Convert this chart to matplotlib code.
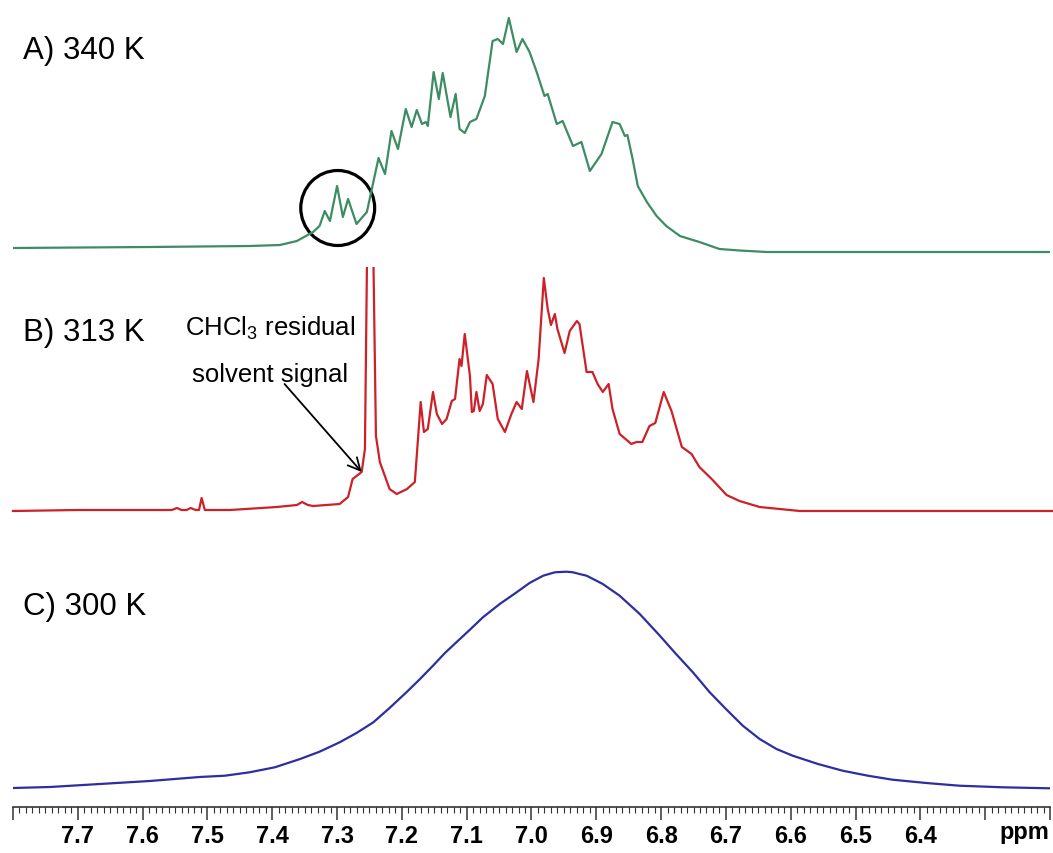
#!/usr/bin/env python3
# stacked 1H NMR spectra at three temperatures (aromatic region)

import matplotlib
matplotlib.use("Agg")
import matplotlib.pyplot as plt
from matplotlib.ticker import MultipleLocator, FuncFormatter
from matplotlib.patches import Rectangle, Ellipse

plt.rcParams['font.family'] = ['Liberation Sans', 'DejaVu Sans']
plt.rcParams['mathtext.fontset'] = 'custom'
plt.rcParams['mathtext.rm'] = 'Liberation Sans'
plt.rcParams['mathtext.it'] = 'Liberation Sans'

# A) 340 K
ppm_340 = [7.800, 7.589, 7.435, 7.388, 7.362, 7.337, 7.327, 7.319, 7.311, 7.300,
           7.291, 7.283, 7.270, 7.254, 7.236, 7.226, 7.216, 7.206, 7.194, 7.185,
           7.177, 7.169, 7.163, 7.160, 7.151, 7.143, 7.137, 7.125, 7.117, 7.111,
           7.103, 7.095, 7.085, 7.072, 7.060, 7.052, 7.044, 7.035, 7.023, 7.014,
           7.003, 6.992, 6.980, 6.975, 6.961, 6.952, 6.936, 6.923, 6.910, 6.892,
           6.875, 6.864, 6.856, 6.852, 6.844, 6.836, 6.822, 6.807, 6.792, 6.771,
           6.741, 6.710, 6.679, 6.637, 6.196]
int_340 = [4, 5, 6, 7, 11, 20, 26, 41, 31, 66,
           35, 53, 28, 40, 94, 78, 121, 103, 143, 125,
           142, 128, 130, 126, 180, 153, 179, 135, 158, 123,
           119, 130, 133, 156, 211, 213, 208, 234, 200, 213,
           200, 180, 156, 158, 128, 131, 106, 110, 81, 98,
           130, 128, 116, 117, 93, 66, 50, 36, 26, 16,
           10, 3, 1.5, 0, 0]

# B) 313 K
ppm_313 = [7.800, 7.700, 7.600, 7.555, 7.547, 7.540, 7.532, 7.526, 7.518, 7.513,
           7.509, 7.504, 7.465, 7.393, 7.362, 7.354, 7.345, 7.337, 7.296, 7.283,
           7.276, 7.270, 7.262, 7.257, 7.253, 7.249, 7.245, 7.240, 7.234, 7.219,
           7.208, 7.192, 7.180, 7.171, 7.166, 7.160, 7.152, 7.146, 7.138, 7.131,
           7.123, 7.118, 7.111, 7.108, 7.103, 7.095, 7.092, 7.089, 7.085, 7.080,
           7.075, 7.069, 7.060, 7.052, 7.041, 7.031, 7.023, 7.015, 7.007, 6.997,
           6.989, 6.981, 6.975, 6.970, 6.964, 6.960, 6.949, 6.941, 6.930, 6.926,
           6.915, 6.906, 6.898, 6.890, 6.881, 6.875, 6.864, 6.846, 6.838, 6.829,
           6.818, 6.809, 6.796, 6.784, 6.768, 6.753, 6.741, 6.722, 6.699, 6.679,
           6.648, 6.586, 6.196]
int_313 = [0, 1, 1, 1, 3, 1, 1, 3, 1, 1,
           13, 1, 1, 4, 6, 9, 6, 5, 7, 14,
           32, 35, 39, 62, 300, 400, 300, 75, 49, 22,
           17, 22, 29, 109, 79, 82, 119, 97, 87, 92,
           110, 112, 152, 145, 177, 135, 99, 100, 119, 100,
           107, 136, 127, 92, 79, 97, 109, 102, 140, 109,
           152, 233, 202, 186, 197, 182, 158, 180, 190, 187,
           139, 139, 127, 119, 127, 102, 77, 67, 69, 69,
           85, 88, 119, 100, 64, 57, 44, 32, 16, 10,
           4, 0, 0]

# C) 300 K
ppm_300 = [7.800, 7.743, 7.666, 7.589, 7.512, 7.473, 7.435, 7.396, 7.357, 7.327,
           7.296, 7.270, 7.244, 7.219, 7.193, 7.172, 7.152, 7.134, 7.116, 7.095,
           7.075, 7.049, 7.023, 7.003, 6.982, 6.964, 6.946, 6.936, 6.926, 6.915,
           6.905, 6.890, 6.864, 6.833, 6.802, 6.777, 6.751, 6.725, 6.700, 6.674,
           6.648, 6.622, 6.597, 6.558, 6.520, 6.481, 6.443, 6.391, 6.340, 6.273,
           6.201]
int_300 = [1, 2, 5, 8, 12, 13.3, 16.7, 21.7, 30, 37.3,
           46.7, 56, 66.7, 81, 96.7, 110, 123.3, 135.7, 146.7, 159.3,
           171.7, 185, 196.7, 206, 213.3, 216.7, 217.3, 216.7, 215, 213.3,
           210, 205, 193.3, 175, 153.3, 135, 116.7, 96.7, 80, 63.3,
           50, 40, 33.3, 25, 18.3, 13.3, 9.3, 6, 3.3, 1.7,
           0.7]

labels = ["A) 340 K", "B) 313 K", "C) 300 K"]
colors = ["#3d8c63", "#cc2128", "#2e2ea0"]
offsets = [555, 296, 18]
label_y = [749, 467, 193]

fig = plt.figure(figsize=(10.53, 8.54), dpi=100)
ax = fig.add_axes([13 / 1053, 46 / 854, 1037 / 1053, 808 / 854])
ax.set_xlim(7.80, 6.20)
ax.set_ylim(0, 808)

series = [(ppm_340, int_340), (ppm_313, int_313), (ppm_300, int_300)]
for (x, y), c, off, lab, ly in zip(series, colors, offsets, labels, label_y):
    line, = ax.plot(x, [v + off for v in y], color=c, lw=1.6,
                    solid_joinstyle='round')
    if c == colors[1]:
        # solvent peak runs off the top of its panel
        clip = Rectangle((6.0, -100), 2.0, 640, transform=ax.transData)
        line.set_clip_path(clip)
    ax.text(7.785, ly, lab, fontsize=22.5, ha='left', va='baseline')

# circled multiplet
ax.add_patch(Ellipse((7.299, 599), 0.114, 75, fill=False, ec='black', lw=2.3))

# solvent annotation
ax.text(7.403, 472, r"CHCl$_3$ residual", fontsize=18.5, ha='center', va='baseline')
ax.text(7.403, 426, "solvent signal", fontsize=18.5, ha='center', va='baseline')
ax.annotate("", xy=(7.262, 335), xytext=(7.381, 423),
            arrowprops=dict(arrowstyle='->', color='black', lw=1.3,
                            mutation_scale=22, shrinkA=0, shrinkB=0))

# axis styling
for s in ['top', 'left', 'right']:
    ax.spines[s].set_visible(False)
ax.spines['bottom'].set_linewidth(1.2)
ax.spines['bottom'].set_color('#333333')
ax.set_yticks([])
ax.xaxis.set_major_locator(MultipleLocator(0.1))
ax.xaxis.set_minor_locator(MultipleLocator(0.01))


def fmt(v, pos):
    if v > 7.75 or v < 6.35:
        return ""
    return f"{v:.1f}"


ax.xaxis.set_major_formatter(FuncFormatter(fmt))
ax.tick_params(axis='x', which='major', direction='out', length=9, width=1.1,
               color='#333333', pad=3, labelsize=17)
ax.tick_params(axis='x', which='minor', direction='out', length=4, width=0.8,
               color='#333333')
for t in ax.get_xticklabels():
    t.set_fontweight('bold')
fig.text(1049 / 1053, 1 - 833 / 854, "ppm", fontsize=17, fontweight='bold',
         ha='right', va='center')

fig.savefig("out.png", dpi=100)
